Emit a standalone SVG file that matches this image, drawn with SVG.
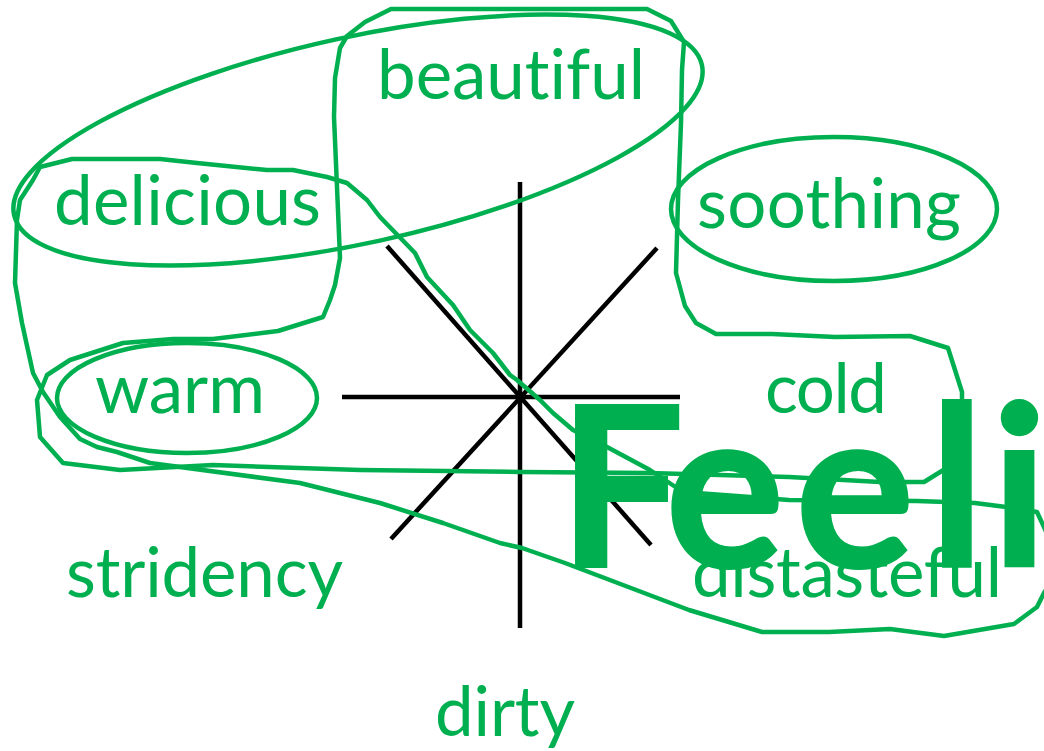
<svg xmlns="http://www.w3.org/2000/svg" width="1044" height="751" viewBox="0 0 1044 751">
  <style>
    .lbl { font-family: Lato, "Open Sans", "Liberation Sans", sans-serif; font-size: 69px; fill: #00B050; font-variant-ligatures: none; font-feature-settings: "liga" 0, "clig" 0; }
    .big { font-family: Lato, "Open Sans", "Liberation Sans", sans-serif; font-size: 224px; font-weight: 700; fill: #00B050; stroke: #00B050; stroke-width: 2; font-variant-ligatures: none; }
    .loop { fill: none; stroke: #00B050; stroke-width: 4.5; stroke-linejoin: round; }
    .axis { stroke: #000; stroke-width: 4.5; fill: none; }
  </style>
  <rect width="1044" height="751" fill="#fff"/>

  <g id="connectors">
    <line class="axis" x1="520" y1="182" x2="520" y2="628"/>
    <line class="axis" x1="342" y1="397" x2="680" y2="397"/>
    <line class="axis" x1="387" y1="246" x2="651" y2="545"/>
    <line class="axis" x1="391" y1="539" x2="657" y2="248"/>
  </g>

  <g id="loops">
    <ellipse id="loop-beautiful-delicious" class="loop" cx="358" cy="140" rx="352" ry="103" transform="rotate(-12.3 358 140)"/>
    <ellipse id="loop-soothing" class="loop" cx="834" cy="209" rx="163" ry="72"/>
    <ellipse id="loop-warm" class="loop" cx="187" cy="398" rx="130" ry="55"/>
    <path id="loop-big" class="loop" d="M391,9 L647,9 L671,21 L684,42 L682,70 L681,123 L678,200 L676,273 L685,306 L696,323 L716,334 L772,334 L835,337 L910,336 L948,348 L962,392 L962,455 L945,469 L924,482 L880,482 L789,477 L649,473 L522,472 L360,470 L213,465 L120,470 L63,463 L40,437 L37,400 L47,375 L70,360 L123,343 L173,339 L213,339 L278,331 L323,317 L330,300 L335,285 L340,258 L337,187 L334,117 L335,78 L340,48 L347,36 L365,22 Z"/>
    <path id="loop-cross" class="loop" d="M40,167 L72,159 L160,159 L197,163 L267,170 L293,170 L327,177 L347,183 L367,200 L380,217 L415,253 L427,277 L453,305 L470,330 L493,353 L510,375 L517,380 L540,400 L553,413 L573,430 L607,447 L650,470 L683,492 L789,500 L917,501 L975,503 L1006,507 L1037,512 L1044,527 L1052,545 L1052,580 L1044,593 L1037,607 L1014,624 L944,636 L890,629 L829,632 L762,632 L689,610 L565,563 L522,548 L500,543 L443,523 L380,503 L300,483 L150,463 L117,452 L97,447 L80,439 L60,417 L43,392 L33,373 L22,323 L15,283 L17,220 L20,200 L33,180 Z"/>
  </g>

  <g id="node-beautiful"><text class="lbl" x="377" y="99" textLength="268">beautiful</text></g>
  <g id="node-delicious"><text class="lbl" x="54" y="225" textLength="267">delicious</text></g>
  <g id="node-soothing"><text class="lbl" x="697" y="228" textLength="264">soothing</text></g>
  <g id="node-warm"><text class="lbl" x="95" y="413" textLength="170">warm</text></g>
  <g id="node-cold"><text class="lbl" x="765" y="413" textLength="122">cold</text></g>
  <g id="node-stridency"><text class="lbl" x="66" y="597" textLength="277">stridency</text></g>
  <g id="node-distasteful"><text class="lbl" x="692" y="597" textLength="310">distasteful</text></g>
  <g id="node-dirty"><text class="lbl" x="435" y="736" textLength="140">dirty</text></g>
  <g id="node-feeli"><text class="big" x="558 665 795 929 991" y="567">Feeli</text></g>
</svg>
